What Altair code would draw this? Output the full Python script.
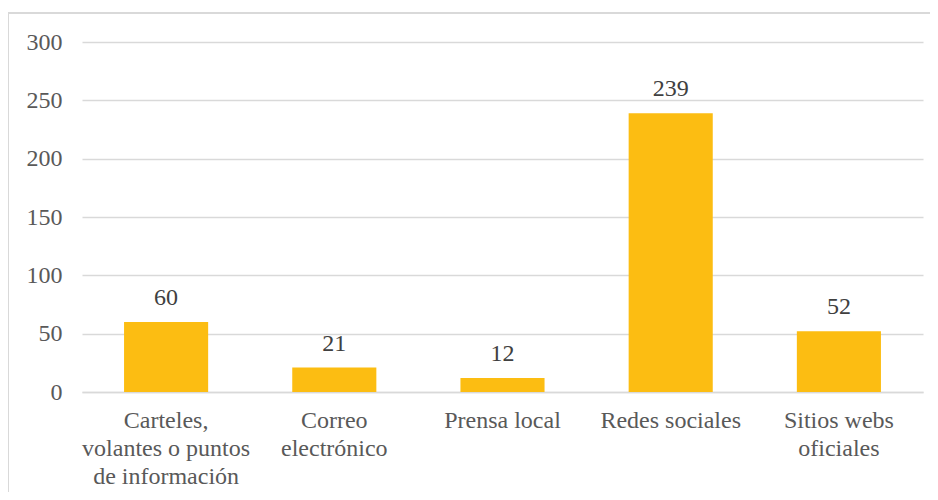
import altair as alt
import pandas as pd

categories = [
    "Carteles,|volantes o puntos|de información",
    "Correo|electrónico",
    "Prensa local",
    "Redes sociales",
    "Sitios webs|oficiales",
]
values = [60, 21, 12, 239, 52]

df = pd.DataFrame({"cat": categories, "val": values})

FONT = "Liberation Serif"

x = alt.X(
    "cat:N",
    sort=categories,
    title=None,
    scale=alt.Scale(paddingInner=0.5, paddingOuter=0.25),
    axis=alt.Axis(
        labelAngle=0,
        labelExpr="split(datum.label, '|')",
        labelFont=FONT,
        labelFontSize=24,
        labelColor="#595959",
        labelLineHeight=28,
        labelPadding=16,
        labelBaseline="top",
        ticks=False,
        domainColor="#d9d9d9",
        domainWidth=1.5,
        labelLimit=300,
    ),
)
y = alt.Y(
    "val:Q",
    title=None,
    scale=alt.Scale(domain=[0, 300]),
    axis=alt.Axis(
        values=[0, 50, 100, 150, 200, 250, 300],
        labelFont=FONT,
        labelFontSize=24,
        labelColor="#595959",
        labelPadding=20,
        ticks=False,
        domain=False,
        gridColor="#d9d9d9",
        gridWidth=1.5,
    ),
)

base = alt.Chart(df)

border = base.mark_rect(
    fillOpacity=0, stroke="#d9d9d9", strokeWidth=1.5, clip=False
).encode(
    x=alt.value(-74), x2=alt.value(900), y=alt.value(-29), y2=alt.value(520)
)

bars = base.mark_bar(color="#FCBD12").encode(x=x, y=y)

labels = base.mark_text(
    font=FONT, fontSize=24, color="#404040", baseline="bottom", dy=-12
).encode(x=x, y=y, text="val:Q")

chart = (
    alt.layer(border, bars, labels)
    .properties(
        width=841,
        height=350,
        padding={"left": 74, "top": 34, "right": 7, "bottom": 100},
        autosize=alt.AutoSizeParams(type="none"),
    )
    .configure_view(strokeWidth=0)
)

chart.save("out.html", embed_options={"renderer": "svg", "actions": False})
